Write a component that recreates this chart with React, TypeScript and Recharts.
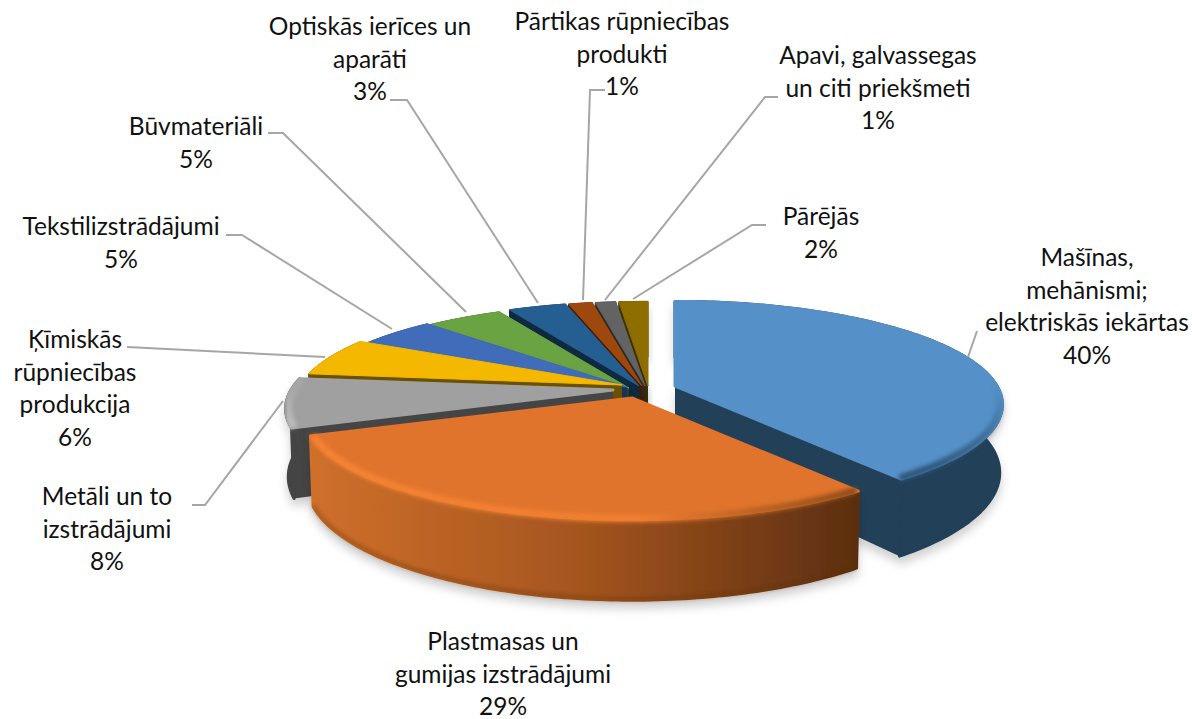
import { Pie, PieChart } from 'recharts';

const CATEGORIES = [
  'Mašīnas, mehānismi; elektriskās iekārtas',
  'Plastmasas un gumijas izstrādājumi',
  'Metāli un to izstrādājumi',
  'Ķīmiskās rūpniecības produkcija',
  'Tekstilizstrādājumi',
  'Būvmateriāli',
  'Optiskās ierīces un aparāti',
  'Pārtikas rūpniecības produkti',
  'Apavi, galvassegas un citi priekšmeti',
  'Pārējās',
];
const VALUES = [39.6, 29.4, 7.6, 6, 4.8, 4.6, 3.4, 1.4, 1.2, 1.7];

const TOP_COLORS = ['#5591c8', '#e0742c', '#a0a0a0', '#f5b800', '#416cba', '#6aa342', '#255e91', '#9e480e', '#636363', '#8f6e00'];
const WALL_COLORS = ['#243f58', 'url(#orangeWall)', '#444444', '#6b5100', '#1d3160', '#2e471c', '#102a40', '#451f06', '#2b2b2b', '#3e3000'];
const RIM_COLORS = ['url(#blueRim)', 'url(#orangeRim)', 'url(#greyRim)', null, null, null, null, null, null, null];

// explode of each slice, in px
const OFFSETS = [[35, -2], [-8, 10], [-27, 2], [-18, -3], [-13, -1], [-11, 0], [-1, -2], [2, -2], [5, -2], [8, -2]];

const LABEL_LINES = [
  ['Mašīnas,', 'mehānismi;', 'elektriskās iekārtas'],
  ['Plastmasas un', 'gumijas izstrādājumi'],
  ['Metāli un to', 'izstrādājumi'],
  ['Ķīmiskās', 'rūpniecības', 'produkcija'],
  ['Tekstilizstrādājumi'],
  ['Būvmateriāli'],
  ['Optiskās ierīces un', 'aparāti'],
  ['Pārtikas rūpniecības', 'produkti'],
  ['Apavi, galvassegas', 'un citi priekšmeti'],
  ['Pārējās'],
];
const LABEL_AT = [[1087, 266], [503, 650], [107, 505], [75, 348], [121, 235], [196, 135], [370, 35], [622, 30], [878, 64], [821, 225]];
const LEADERS = [
  '968,357 977,331',
  '',
  '192,505 205,505 283,401',
  '127,347 325,357',
  '226,235 242,235 392,329',
  '268,133 283,133 466,312',
  '390,100 407,100 538,303',
  '605,90 590,90 583,300',
  '778,97 765,97 605,300',
  '766,225 752,225 633,299',
];

const WIDTH = 1192;
const HEIGHT = 719;
const SQUASH = 0.31;
const PERSPECTIVE = 0.18;
const DEPTH = 66;
const TAPER = 0.008; // the bottom of the wall is a bit narrower
const RAD = Math.PI / 180;

const sliceData = CATEGORIES.map((name, i) => ({ name, value: VALUES[i], idx: i })).reverse();

const Slice = (props: any) => {
  const { cx, cy, outerRadius, startAngle, endAngle, payload } = props;
  const i = payload?.idx ?? props.idx;
  const [ox, oy] = OFFSETS[i];
  const project = (deg: number, r: number, drop: number) => {
    const x = r * Math.cos(deg * RAD);
    const y = -r * Math.sin(deg * RAD);
    const s = 1 / (1 - PERSPECTIVE * y);
    const narrow = 1 - (TAPER * drop) / DEPTH;
    return [cx + ox + x * outerRadius * s * narrow, cy + oy + y * outerRadius * SQUASH * s + drop * s];
  };
  const from = Math.min(startAngle, endAngle);
  const to = Math.max(startAngle, endAngle);
  const angles: number[] = [];
  for (let a = from; a < to; a += 1) angles.push(a);
  angles.push(to);
  const pts = (list: number[], r: number, drop: number) => list.map((a) => project(a, r, drop).join(',')).join(' ');
  const back = [...angles].reverse();
  const apex = project(0, 0, 0).join(',');
  const apexLow = project(0, 0, DEPTH).join(',');
  const band = `${pts(angles, 1, 0)} ${pts(back, 1, DEPTH)}`;
  const edgeA = `${apex} ${project(from, 1, 0).join(',')} ${project(from, 1, DEPTH).join(',')} ${apexLow}`;
  const edgeB = `${apex} ${project(to, 1, 0).join(',')} ${project(to, 1, DEPTH).join(',')} ${apexLow}`;
  const rim = RIM_COLORS[i];
  const edgeFill = i === 1 ? '#a5551f' : WALL_COLORS[i];
  const round = i < 3 ? 3 : 1;
  return (
    <g>
      <g filter="url(#softShadow)">
        <polygon points={edgeA} fill={edgeFill} />
        <polygon points={edgeB} fill={edgeFill} />
        <polygon points={band} fill={WALL_COLORS[i]} stroke={WALL_COLORS[i]} strokeWidth={round} strokeLinejoin="round" />
      </g>
      {i === 1 && (
        <polyline points={pts(angles, 1, DEPTH - 1)} fill="none" stroke="#5c2f10" strokeWidth={2} strokeOpacity={0.7} filter="url(#rimBlur)" />
      )}
      <polygon points={`${apex} ${pts(angles, 1, 0)}`} fill={TOP_COLORS[i]} stroke={TOP_COLORS[i]} strokeWidth={round} strokeLinejoin="round" />
      {rim && (
        <polyline points={pts(angles, 0.992, 0)} fill="none" stroke={rim} strokeWidth={7} filter="url(#rimBlur)" />
      )}
    </g>
  );
};

const renderLabel = (props: any) => {
  const i = props.payload?.idx ?? props.idx;
  const [x, y] = LABEL_AT[i];
  const lines = [...LABEL_LINES[i], `${Math.round(VALUES[i])}%`];
  return (
    <g key={i}>
      {LEADERS[i] && <polyline points={LEADERS[i]} fill="none" stroke="#a6a6a6" strokeWidth={2} />}
      <text x={x} y={y} textAnchor="middle" fontFamily="Lato, sans-serif" fontSize={24.5} fill="#111111">
        {lines.map((line, n) => (
          <tspan key={n} x={x} y={y + n * 32.7}>{line}</tspan>
        ))}
      </text>
    </g>
  );
};

const noLabel = () => null;
const blueOnly = (p: any) => (p.payload?.idx === 0 || p.idx === 0 ? <Slice {...p} /> : <g />);
const allButBlue = (p: any) => (p.payload?.idx === 0 || p.idx === 0 ? <g /> : <Slice {...p} />);

export default function App() {
  return (
    <div style={{ position: 'absolute', left: 0, top: 0, width: WIDTH, height: HEIGHT }}>
      <PieChart width={WIDTH} height={HEIGHT} margin={{ top: 0, right: 0, bottom: 0, left: 0 }}>
        <defs>
          <linearGradient id="orangeWall" gradientUnits="userSpaceOnUse" x1="305" y1="0" x2="856" y2="0">
            <stop offset="0" stopColor="#d0702b" />
            <stop offset="0.5" stopColor="#a5551f" />
            <stop offset="1" stopColor="#5c2f10" />
          </linearGradient>
          <linearGradient id="orangeRim" gradientUnits="userSpaceOnUse" x1="305" y1="0" x2="856" y2="0">
            <stop offset="0" stopColor="#f58434" />
            <stop offset="0.6" stopColor="#f27f30" />
            <stop offset="1" stopColor="#8a4a1a" />
          </linearGradient>
          <linearGradient id="blueRim" gradientUnits="userSpaceOnUse" x1="0" y1="385" x2="0" y2="470">
            <stop offset="0" stopColor="#2d5478" stopOpacity="0" />
            <stop offset="1" stopColor="#2d5478" />
          </linearGradient>
          <linearGradient id="greyRim" gradientUnits="userSpaceOnUse" x1="0" y1="385" x2="0" y2="430">
            <stop offset="0" stopColor="#c4c4c4" stopOpacity="0.2" />
            <stop offset="1" stopColor="#c4c4c4" stopOpacity="0.9" />
          </linearGradient>
          <filter id="softShadow" x="-15%" y="-15%" width="130%" height="140%">
            <feDropShadow dx="0" dy="7" stdDeviation="5" floodColor="#000000" floodOpacity="0.18" />
          </filter>
          <filter id="rimBlur" x="-5%" y="-10%" width="110%" height="120%">
            <feGaussianBlur stdDeviation="2" />
          </filter>
        </defs>
        {/* blue goes first, the front slices have to cover it */}
        <Pie
          data={sliceData}
          dataKey="value"
          nameKey="name"
          cx={640}
          cy={388}
          outerRadius={322}
          startAngle={90}
          endAngle={450}
          stroke="none"
          label={noLabel}
          labelLine={false}
          isAnimationActive={false}
          shape={blueOnly}
          inactiveShape={blueOnly}
        />
        <Pie
          data={sliceData}
          dataKey="value"
          nameKey="name"
          cx={640}
          cy={388}
          outerRadius={322}
          startAngle={90}
          endAngle={450}
          stroke="none"
          label={renderLabel}
          labelLine={false}
          isAnimationActive={false}
          shape={allButBlue}
          inactiveShape={allButBlue}
        />
      </PieChart>
    </div>
  );
}
